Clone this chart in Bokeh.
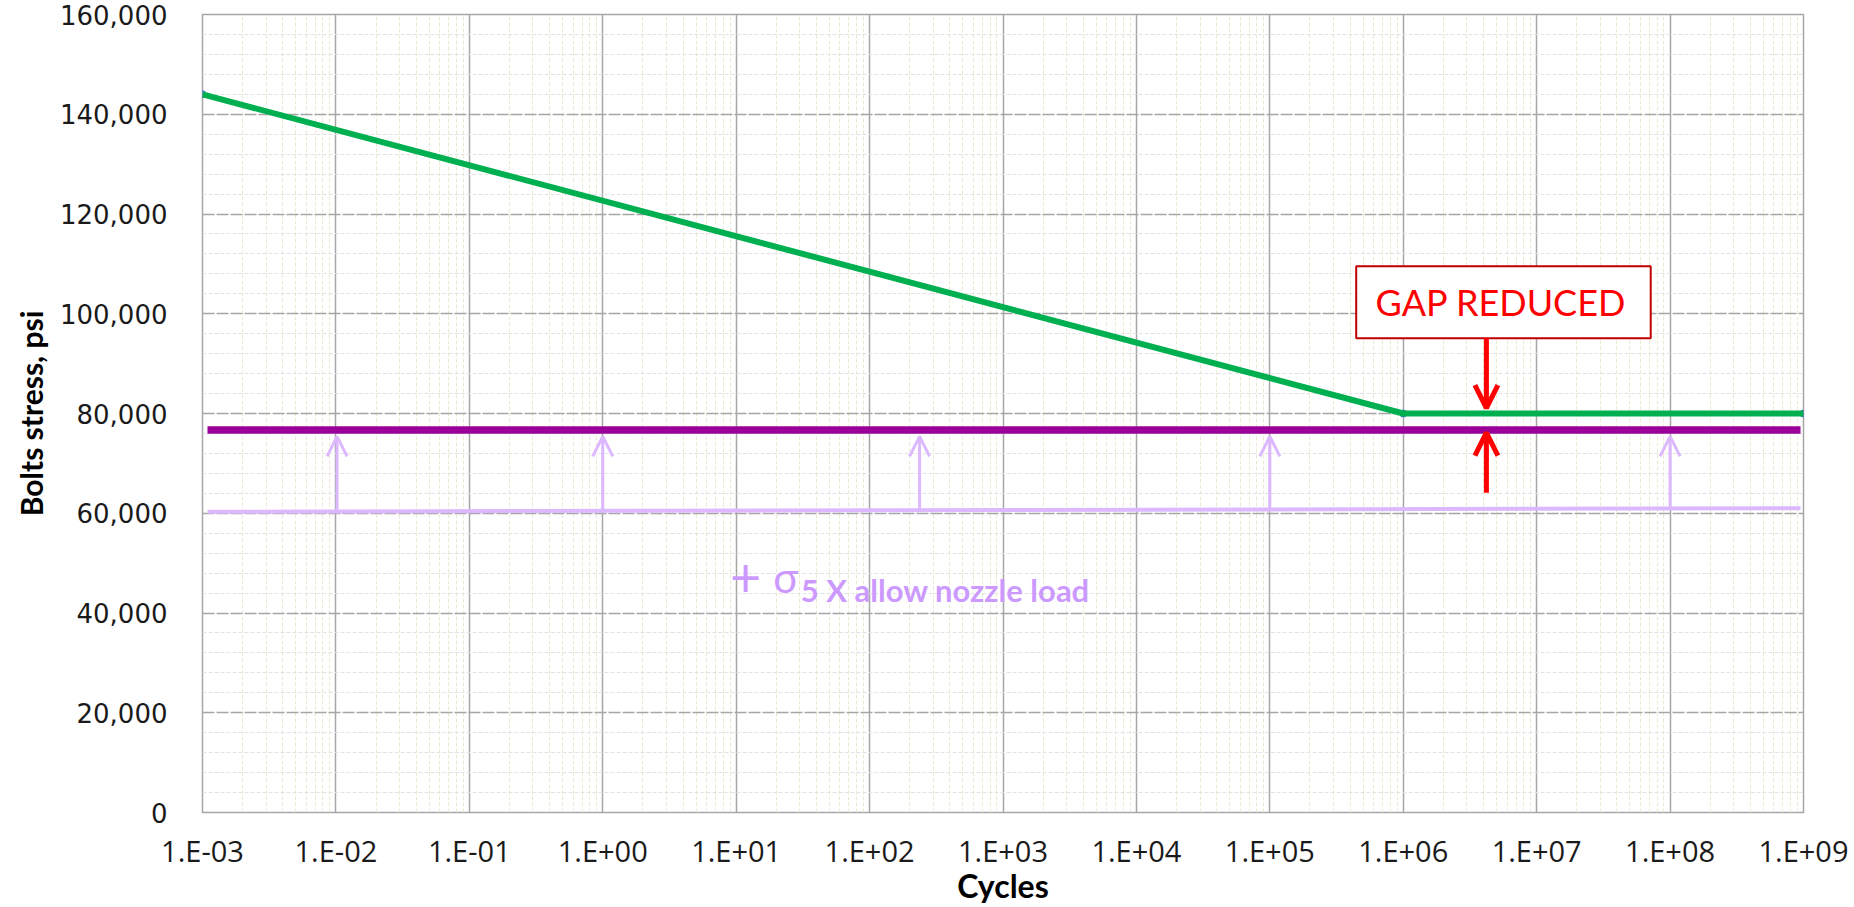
from bokeh.plotting import figure
from bokeh.models import (FixedTicker, CustomJSTickFormatter, NumeralTickFormatter,
                          Range1d, Arrow, OpenHead, ColumnDataSource)
from bokeh.core.properties import value
from bokeh.embed import file_html
from bokeh.resources import INLINE

# ---- data ----
x_ticks = [1e-3, 1e-2, 1e-1, 1e0, 1e1, 1e2, 1e3, 1e4, 1e5, 1e6, 1e7, 1e8, 1e9]
x_tick_labels = ["1.E-03", "1.E-02", "1.E-01", "1.E+00", "1.E+01", "1.E+02", "1.E+03",
                 "1.E+04", "1.E+05", "1.E+06", "1.E+07", "1.E+08", "1.E+09"]
y_ticks = [0, 20000, 40000, 60000, 80000, 100000, 120000, 140000, 160000]

design_cycles = [1e-3, 1e6, 1e9]
design_stress = [144000, 80000, 80000]

bolt_cycles = [1.09e-3, 9.5e8]
bolt_stress = [76700, 76700]

nozzle_cycles = [1.09e-3, 9.5e8]
nozzle_stress = [60300, 61000]

push_cycles = [1.02e-2, 1e0, 2.37e2, 1e5, 1e8]
push_base = [60350, 60500, 60650, 60800, 61000]
push_tip = [75400, 75400, 75400, 75400, 75400]

gap_cycles = 4.2e6
gap_down = [95100, 81100]
gap_up = [64100, 76150]

# minor grid positions
x_minor = [k * t for t in x_ticks[:-1] for k in range(2, 10)]
y_minor = [v for v in range(0, 160001, 4000) if v % 20000 != 0]

p = figure(width=1854, height=907, x_axis_type="log",
           x_range=Range1d(1e-3, 1e9), y_range=Range1d(0, 160000),
           output_backend="svg", toolbar_location=None,
           min_border_left=202, min_border_right=51, min_border_top=14, min_border_bottom=94)
p.background_fill_color = "white"
p.border_fill_color = "white"
p.outline_line_color = "#A6A6A6"
p.outline_line_width = 1.5

p.xaxis.ticker = FixedTicker(ticks=x_ticks, minor_ticks=x_minor)
p.yaxis.ticker = FixedTicker(ticks=y_ticks, minor_ticks=y_minor)
p.xaxis.formatter = CustomJSTickFormatter(args=dict(decs=x_ticks, names=x_tick_labels), code="""
const lt = Math.log10(tick);
for (let i = 0; i < decs.length; i++) {
  if (Math.abs(Math.log10(decs[i]) - lt) < 1e-6) return names[i];
}
return "";
""")
p.yaxis.formatter = NumeralTickFormatter(format="0,0")

for ax in (p.xaxis, p.yaxis):
    ax.axis_line_color = None
    ax.major_tick_line_color = None
    ax.minor_tick_line_color = None
    ax.major_label_text_color = "#1a1a1a"
    ax.axis_label_text_color = "#000000"
    ax.axis_label_text_font = "Lato"
    ax.axis_label_text_font_style = "bold"

p.xaxis.axis_label = "Cycles"
p.yaxis.axis_label = "Bolts stress, psi"
p.xaxis.axis_label_text_font_size = "32px"
p.yaxis.axis_label_text_font_size = "30px"
p.xaxis.major_label_text_font = "Open Sans"
p.xaxis.major_label_text_font_size = "29px"
p.xaxis.major_label_standoff = 12
p.xaxis.axis_label_standoff = -7
p.yaxis.major_label_text_font = "DejaVu Sans"
p.yaxis.major_label_text_font_size = "26px"
p.yaxis.major_label_standoff = 29
p.yaxis.axis_label_standoff = 8

p.xgrid.grid_line_color = "#A6A6A6"
p.xgrid.grid_line_width = 1.5
p.xgrid.minor_grid_line_color = "#EAEAD2"
p.xgrid.minor_grid_line_dash = "4 2"
p.xgrid.minor_grid_line_width = 1
p.ygrid.grid_line_color = "#A6A6A6"
p.ygrid.grid_line_width = 1.5
p.ygrid.grid_line_dash = "12 2"
p.ygrid.minor_grid_line_color = "#E3E3E3"
p.ygrid.minor_grid_line_dash = "4 2"
p.ygrid.minor_grid_line_width = 1

# lines
p.line(nozzle_cycles, nozzle_stress, line_color="#DDB8FF", line_width=4)
p.line(bolt_cycles, bolt_stress, line_color="#990099", line_width=7.5)
p.scatter(design_cycles, design_stress, size=7, color="#4472C4")
p.line(design_cycles, design_stress, line_color="#00B050", line_width=6)

# lavender push-up arrows
src = ColumnDataSource(dict(x=push_cycles, y0=push_base, y1=push_tip))
p.add_layout(Arrow(source=src, x_start="x", y_start="y0", x_end="x", y_end="y1",
                   line_color="#DDB8FF", line_width=3,
                   end=OpenHead(size=20, line_color="#DDB8FF", line_width=3)))

# gap box
p.quad(left=[4.44e5], right=[7.16e7], bottom=[95100], top=[109500],
       fill_color="white", line_color="#C00000", line_width=2)
p.text(x=[5.4e6], y=[102400], text=["GAP REDUCED"], text_color="#FF0000",
       text_font=value("Lato"), text_font_size="36px",
       text_align="center", text_baseline="middle")

# red arrows
p.add_layout(Arrow(x_start=gap_cycles, y_start=gap_down[0], x_end=gap_cycles, y_end=gap_down[1],
                   line_color="#FF0000", line_width=5,
                   end=OpenHead(size=23, line_color="#FF0000", line_width=5)))
p.add_layout(Arrow(x_start=gap_cycles, y_start=gap_up[0], x_end=gap_cycles, y_end=gap_up[1],
                   line_color="#FF0000", line_width=5,
                   end=OpenHead(size=23, line_color="#FF0000", line_width=5)))

# sigma annotation
p.text(x=[9.0], y=[47200], text=["+"], text_color="#CC99FF",
       text_font=value("Lato"), text_font_size="54px",
       text_align="left", text_baseline="alphabetic")
p.text(x=[19.0], y=[47300], text=["σ"], text_color="#CC99FF",
       text_font=value("Lato"), text_font_size="42px",
       text_align="left", text_baseline="alphabetic")
p.text(x=[30.5], y=[44700], text=["5 X allow nozzle load"], text_color="#CC99FF",
       text_font=value("Lato"), text_font_size="31px", text_font_style="bold",
       text_align="left", text_baseline="alphabetic")

open("out.html", "w").write(file_html(p, INLINE))
